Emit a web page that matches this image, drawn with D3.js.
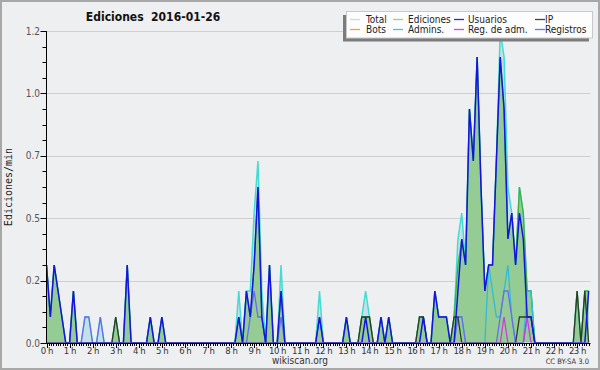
<!DOCTYPE html>
<html>
<head>
<meta charset="utf-8">
<script src="https://cdn.jsdelivr.net/npm/d3@7"></script>
<style>
body { margin: 0; background: #fff; }
svg text { font-family: "DejaVu Sans Condensed", "DejaVu Sans", sans-serif; }
</style>
</head>
<body>
<div id="chart"></div>
<script>
var width = 600,
    height = 370,
    binMinutes = 10;   // one point = one 10 min bin, values are edits per bin

var title = "Ediciones  2016-01-26";
var yTicks = [0, 0.24, 0.48, 0.72, 0.96, 1.2];
var hourTicks = d3.range(0, 24);
var legendNames = ["Total", "Ediciones", "Usuarios", "IP", "Bots", "Admins.", "Reg. de adm.", "Registros"];
var legendColors = ["#b2e8e2", "#8fd68f", "#2a2ad8", "#444444", "#f2a040", "#3cc6da", "#d24cdc", "#7272f2"];

// 00:00 ... 23:30, 6 bins per hour
var total = [
  3,1,3,2,1,0, 0,2,0,0,1,1, 0,0,1,0,0,0, 1,0,0,3,0,0,
  0,0,0,1,0,0, 1,0,0,0,0,0, 0,0,0,0,0,0, 0,0,0,0,0,0,
  0,0,2,0,2,2, 5,7,2,0,3,0, 0,3,0,0,0,0, 0,0,0,0,0,2,
  0,0,0,0,0,0, 1,0,0,0,1,2, 1,0,0,1,0,1, 0,0,0,0,0,0,
  0,1,1,0,0,2, 1,1,1,0,1,4, 5,3,9,7,11,6, 2,3,3,7,12,11,
  6,5,3,6,5,2, 2,0,0,0,0,0, 0,0,0,0,0,0, 2,0,2,2
];
var ediciones = [
  3,1,3,2,1,0, 0,2,0,0,0,0, 0,0,0,0,0,0, 1,0,0,3,0,0,
  0,0,0,1,0,0, 1,0,0,0,0,0, 0,0,0,0,0,0, 0,0,0,0,0,0,
  0,0,1,0,2,1, 3,6,1,0,3,0, 0,2,0,0,0,0, 0,0,0,0,0,1,
  0,0,0,0,0,0, 1,0,0,0,1,1, 1,0,0,1,0,1, 0,0,0,0,0,0,
  0,1,1,0,0,2, 1,1,1,0,1,3, 4,3,9,7,11,6, 2,3,3,7,11,9,
  4,5,3,6,5,2, 2,0,0,0,0,0, 0,0,0,0,0,0, 2,0,2,2
];
var usuarios = [
  3,1,3,2,1,0, 0,2,0,0,0,0, 0,0,0,0,0,0, 0,0,0,3,0,0,
  0,0,0,1,0,0, 1,0,0,0,0,0, 0,0,0,0,0,0, 0,0,0,0,0,0,
  0,0,1,0,2,1, 3,6,1,0,3,0, 0,2,0,0,0,0, 0,0,0,0,0,1,
  0,0,0,0,0,0, 1,0,0,0,0,1, 0,0,0,1,0,1, 0,0,0,0,0,0,
  0,0,1,0,0,2, 1,1,1,0,0,2, 4,3,9,7,11,6, 2,3,3,7,11,9,
  4,5,3,5,4,1, 1,0,0,0,0,0, 0,0,0,0,0,0, 0,0,0,2
];
var ip = [
  0,0,0,0,0,0, 0,0,0,0,0,0, 0,0,0,0,0,0, 1,0,0,0,0,0,
  0,0,0,0,0,0, 0,0,0,0,0,0, 0,0,0,0,0,0, 0,0,0,0,0,0,
  0,0,0,0,0,0, 0,0,0,0,0,0, 0,0,0,0,0,0, 0,0,0,0,0,0,
  0,0,0,0,0,0, 0,0,0,0,1,1, 1,0,0,0,0,0, 0,0,0,0,0,0,
  0,1,1,0,0,0, 0,0,0,0,1,1, 0,0,0,0,0,0, 0,0,0,0,0,0,
  0,0,0,1,1,1, 1,0,0,0,0,0, 0,0,0,0,0,0, 2,0,2,0
];
var admins = [
  0,0,0,0,0,0, 0,0,0,0,0,0, 0,0,0,0,0,0, 0,0,0,0,0,0,
  0,0,0,0,0,0, 0,0,0,0,0,0, 0,0,0,0,0,0, 0,0,0,0,0,0,
  0,0,0,0,0,0, 0,0,0,0,0,0, 0,0,0,0,0,0, 0,0,0,0,0,0,
  0,0,0,0,0,0, 0,0,0,0,0,0, 0,0,0,0,0,0, 0,0,0,0,0,0,
  0,0,0,0,0,0, 0,0,0,0,0,1, 1,0,0,0,0,0, 0,3,2,1,1,2,
  3,1,0,0,0,2, 2,0,0,0,0,0, 0,0,0,0,0,0, 0,0,0,0
];
var registros = [
  0,0,0,0,0,0, 0,0,0,0,1,1, 0,0,1,0,0,0, 0,0,0,0,0,0,
  0,0,0,0,0,0, 0,0,0,0,0,0, 0,0,0,0,0,0, 0,0,0,0,0,0,
  0,0,1,0,0,1, 2,1,1,0,0,0, 0,1,0,0,0,0, 0,0,0,0,0,1,
  0,0,0,0,0,0, 0,0,0,0,0,0, 0,0,0,0,0,0, 0,0,0,0,0,0,
  0,0,0,0,0,0, 0,0,0,0,0,1, 1,0,0,0,0,0, 0,0,0,0,1,2,
  2,1,0,0,0,1, 1,0,0,0,0,0, 0,0,0,0,0,0, 0,0,0,0
];
var regAdm = [
  0,0,0,0,0,0, 0,0,0,0,0,0, 0,0,0,0,0,0, 0,0,0,0,0,0,
  0,0,0,0,0,0, 0,0,0,0,0,0, 0,0,0,0,0,0, 0,0,0,0,0,0,
  0,0,0,0,0,0, 0,0,0,0,0,0, 0,0,0,0,0,0, 0,0,0,0,0,0,
  0,0,0,0,0,0, 0,0,0,0,0,0, 0,0,0,0,0,0, 0,0,0,0,0,0,
  0,0,0,0,0,0, 0,0,0,0,0,0, 0,0,0,0,0,0, 0,0,0,0,0,1,
  0,0,0,0,0,1, 0,0,0,0,0,0, 0,0,0,0,0,0, 0,0,0,0
];

var svg = d3.select("#chart")
    .append("svg")
    .attr("width", width)
    .attr("height", height);

svg.append("rect")
    .attr("x", 1).attr("y", 1)
    .attr("width", width - 2).attr("height", height - 2)
    .attr("fill", "#eeeff1")
    .attr("stroke", "#a8a8a8")
    .attr("stroke-width", 2);

var x = d3.scaleLinear()
    .domain([0, 23.58])
    .range([46.5, 590.5]);

var y = d3.scaleLinear()
    .domain([0, 1.2])
    .range([343, 31]);

var left = x.range()[0], right = x.range()[1], bottom = y(0);

// grid
svg.selectAll("line.grid")
    .data(yTicks.slice(1))
    .enter()
    .append("line")
    .attr("class", "grid")
    .attr("x1", left).attr("x2", right)
    .attr("y1", function (d) { return Math.round(y(d)) + 0.5; })
    .attr("y2", function (d) { return Math.round(y(d)) + 0.5; })
    .attr("stroke", "#cfcfd2")
    .attr("stroke-width", 1);

svg.append("clipPath")
    .attr("id", "plot")
    .append("rect")
    .attr("x", left).attr("y", 20)
    .attr("width", right - left).attr("height", bottom - 20.5);

var plot = svg.append("g").attr("clip-path", "url(#plot)");

function px(d, i) { return x(i / 6); }
function py(d) { return y(d / binMinutes); }

var area = d3.area().x(px).y0(bottom).y1(py);
var line = d3.line().x(px).y(py);

plot.append("path").datum(total).attr("d", area).attr("fill", "#c6e0ea");
plot.append("path").datum(ediciones).attr("d", area).attr("fill", "#94cc94");

var lines = [
    [total, "#44dcd2", 1.5],
    [ediciones, "#3fb03f", 1.3],
    [admins, "#30bcd8", 1.3],
    [registros, "#6a6af0", 1.3],
    [regAdm, "#c83ce0", 1.3],
    [ip, "#2c3c2c", 1.3],
    [usuarios, "#1414e0", 1.5]
];

lines.forEach(function (l) {
    plot.append("path")
        .datum(l[0])
        .attr("d", line)
        .attr("fill", "none")
        .attr("stroke", l[1])
        .attr("stroke-width", l[2]);
});

// y axis
var yMinor = d3.range(0, 1.2001, 0.06);
svg.selectAll("line.yminor")
    .data(yMinor)
    .enter()
    .append("line")
    .attr("x1", left - 4).attr("x2", left)
    .attr("y1", function (d) { return Math.round(y(d)) + 0.5; })
    .attr("y2", function (d) { return Math.round(y(d)) + 0.5; })
    .attr("stroke", "#000");

svg.selectAll("line.ymajor")
    .data(yTicks)
    .enter()
    .append("line")
    .attr("x1", left - 6).attr("x2", left)
    .attr("y1", function (d) { return Math.round(y(d)) + 0.5; })
    .attr("y2", function (d) { return Math.round(y(d)) + 0.5; })
    .attr("stroke", "#000");

svg.selectAll("text.ylab")
    .data(yTicks)
    .enter()
    .append("text")
    .attr("x", 40)
    .attr("y", function (d) { return y(d); })
    .attr("dy", "0.35em")
    .attr("text-anchor", "end")
    .style("font-size", "10px")
    .attr("fill", "#555")
    .text(d3.format(".1f"));

svg.append("line")
    .attr("x1", left).attr("x2", left)
    .attr("y1", y(1.2)).attr("y2", bottom)
    .attr("stroke", "#000");

// x axis
var xMinor = d3.range(0, 23.58, 0.1);
svg.selectAll("line.xminor")
    .data(xMinor)
    .enter()
    .append("line")
    .attr("x1", function (d) { return Math.round(x(d)) + 0.5; })
    .attr("x2", function (d) { return Math.round(x(d)) + 0.5; })
    .attr("y1", bottom).attr("y2", bottom + 3)
    .attr("stroke", "#000");

svg.selectAll("line.xmajor")
    .data(hourTicks)
    .enter()
    .append("line")
    .attr("x1", function (d) { return Math.round(x(d)) + 0.5; })
    .attr("x2", function (d) { return Math.round(x(d)) + 0.5; })
    .attr("y1", bottom).attr("y2", bottom + 5)
    .attr("stroke", "#000");

svg.selectAll("text.xlab")
    .data(hourTicks)
    .enter()
    .append("text")
    .attr("x", function (d) { return x(d) + 0.3; })
    .attr("y", 354)
    .attr("text-anchor", "middle")
    .style("font-size", "9.5px")
    .style("letter-spacing", "-0.5px")
    .attr("fill", "#333")
    .text(function (d) { return d + " h"; });

svg.append("line")
    .attr("x1", left).attr("x2", right)
    .attr("y1", bottom + 0.5).attr("y2", bottom + 0.5)
    .attr("stroke", "#000");

// titles
svg.append("text")
    .attr("x", 153)
    .attr("y", 21)
    .attr("text-anchor", "middle")
    .style("font-size", "12px")
    .style("font-weight", "bold")
    .style("white-space", "pre")
    .attr("fill", "#111")
    .text(title);

svg.append("text")
    .attr("transform", "translate(12,187)rotate(-90)")
    .attr("text-anchor", "middle")
    .style("font-family", "DejaVu Sans Mono, monospace")
    .style("font-size", "10px")
    .attr("fill", "#222")
    .text("Ediciones/min");

svg.append("text")
    .attr("x", 300).attr("y", 364)
    .attr("text-anchor", "middle")
    .style("font-size", "10px")
    .attr("fill", "#333")
    .text("wikiscan.org");

svg.append("text")
    .attr("x", 589).attr("y", 364)
    .attr("text-anchor", "end")
    .style("font-size", "7.5px")
    .attr("fill", "#333")
    .text("CC BY-SA 3.0");

// legend
var lg = svg.append("g");
lg.append("rect")
    .attr("x", 343).attr("y", 15)
    .attr("width", 246).attr("height", 26.5)
    .attr("fill", "#7c7c7c");
lg.append("rect")
    .attr("x", 346.5).attr("y", 11.5)
    .attr("width", 246).attr("height", 26.5)
    .attr("fill", "#fdfdfd")
    .attr("stroke", "#c8c8c8");

var colSwatch = [350, 393, 454, 535],
    colText = [366, 408, 468, 545];

legendNames.forEach(function (name, i) {
    var c = i % 4, r = Math.floor(i / 4),
        ly = 19.5 + r * 10;
    lg.append("line")
        .attr("x1", colSwatch[c]).attr("x2", colSwatch[c] + 10)
        .attr("y1", ly).attr("y2", ly)
        .attr("stroke", legendColors[i])
        .attr("stroke-width", 1.3);
    lg.append("text")
        .attr("x", colText[c])
        .attr("y", ly + 3.3)
        .style("font-size", "10px")
        .attr("fill", "#222")
        .text(name);
});
</script>
</body>
</html>
